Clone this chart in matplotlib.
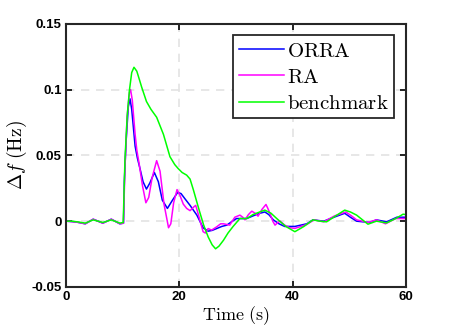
import matplotlib
matplotlib.use('Agg')
import matplotlib.pyplot as plt

# time points and frequency deviation
t_orra = [0, 1, 2, 3.4, 4.8, 6.5, 8.0, 9.5, 10.15, 10.3, 10.6, 11.0, 11.3, 11.6, 12.2,
          12.6, 13.06, 13.6, 14.2, 14.8, 15.6, 16.3, 17.0, 17.9, 18.8, 19.7, 20.3, 21.0,
          21.9, 23.1, 24.2, 25.1, 25.8, 26.6, 27.5, 28.4, 29.2, 30.1, 31.0, 31.9, 33.0,
          34.2, 35.1, 35.8, 36.6, 37.6, 38.6, 40.4, 42.5, 43.6, 45.5, 47.3, 49.2, 50.2,
          51.3, 53.6, 54.8, 56.6, 58.4, 60]
f_orra = [0, -0.0003, -0.0008, -0.002, 0.0015, -0.0015, 0.0015, -0.002, -0.0015, 0.03,
          0.06, 0.087, 0.093, 0.085, 0.057, 0.048, 0.040, 0.030, 0.0244, 0.029, 0.037,
          0.030, 0.016, 0.0097, 0.016, 0.0218, 0.021, 0.017, 0.012, 0.0046, -0.005,
          -0.0076, -0.007, -0.0056, -0.004, -0.003, -0.0005, 0.002, 0.002, 0.002, 0.004,
          0.006, 0.007, 0.005, 0.001, -0.002, -0.004, -0.004, -0.002, 0.001, 0.0, 0.003,
          0.006, 0.003, 0.0, -0.001, 0.001, -0.0005, 0.003, 0.003]

t_ra = [0, 1, 2, 3.4, 4.8, 6.5, 8.0, 9.5, 10.15, 10.4, 10.8, 11.2, 11.4, 11.7, 12.2, 12.5,
        12.9, 13.5, 14.1, 14.6, 15.2, 16.0, 16.6, 17.3, 18.1, 18.5, 19.0, 19.6, 20.1, 20.7,
        21.3, 21.9, 22.6, 22.9, 23.3, 24.2, 24.6, 25.1, 25.7, 26.6, 27.3, 27.8, 28.9, 29.8,
        30.7, 31.2, 31.6, 32.2, 32.8, 33.4, 33.9, 34.6, 35.3, 35.6, 36.0, 36.5, 36.9, 37.4,
        37.8, 38.6, 39.5, 40.4, 41.5, 42.5, 43.8, 45.5, 47.4, 49.4, 50.4, 51.3, 53.3, 54.8,
        56.4, 58.2, 60]
f_ra = [0, -0.0003, -0.0008, -0.002, 0.0015, -0.0015, 0.0015, -0.002, -0.0015, 0.04, 0.08,
        0.098, 0.100, 0.092, 0.066, 0.054, 0.044, 0.027, 0.014, 0.018, 0.033, 0.046, 0.038,
        0.013, -0.005, -0.002, 0.014, 0.024, 0.0198, 0.013, 0.0097, 0.008, 0.011, 0.012,
        0.006, -0.008, -0.009, -0.0056, -0.0068, -0.0043, -0.002, -0.002, -0.003, 0.003,
        0.0046, 0.003, 0.001, 0.005, 0.0076, 0.006, 0.0038, 0.009, 0.0127, 0.010, 0.006,
        0.0, -0.003, -0.001, 0.0, -0.003, -0.005, -0.0055, -0.004, -0.0025, 0.001, -0.0005,
        0.004, 0.007, 0.004, 0.001, -0.001, 0.001, -0.002, 0.002, 0.002]

t_bench = [0, 1, 2, 3.4, 4.8, 6.5, 8.0, 9.5, 10.1, 10.4, 10.8, 11.2, 11.6, 12.0, 12.5,
           13.0, 13.35, 14.2, 15.0, 16.0, 17.2, 18.35, 19.2, 19.8, 20.5, 21.3, 21.9, 22.5,
           23.0, 23.6, 24.3, 25.1, 25.8, 26.4, 27.0, 27.8, 28.6, 29.5, 30.7, 31.9, 33.0,
           34.2, 35.1, 36.2, 37.2, 38.8, 40.4, 42.0, 43.6, 44.8, 46.0, 47.6, 49.2, 50.2,
           51.3, 53.3, 54.8, 56.6, 58.2, 59.5, 60]
f_bench = [0, 0, -0.0005, -0.0015, 0.001, -0.001, 0.001, -0.0015, -0.001, 0.046, 0.08,
           0.0997, 0.113, 0.117, 0.114, 0.107, 0.102, 0.091, 0.085, 0.079, 0.066, 0.049,
           0.043, 0.040, 0.037, 0.035, 0.032, 0.0236, 0.016, 0.007, -0.003, -0.012, -0.018,
           -0.021, -0.019, -0.0145, -0.009, -0.004, 0.002, 0.002, 0.005, 0.007, 0.0084,
           0.006, 0.002, -0.004, -0.008, -0.004, 0.001, 0.0, -0.0005, 0.004, 0.0084, 0.007,
           0.0046, -0.0023, 0.0, -0.0013, 0.002, 0.0053, 0.005]

plt.rcParams['mathtext.fontset'] = 'cm'

fig = plt.figure(figsize=(4.49, 3.36), dpi=100)
ax = fig.add_axes([0.147, 0.146, 0.757, 0.783])

ax.plot(t_orra, f_orra, color=(0, 0, 1), lw=1.1, label=r'$\mathrm{ORRA}$')
ax.plot(t_ra, f_ra, color=(1, 0, 1), lw=1.1, label=r'$\mathrm{RA}$')
ax.plot(t_bench, f_bench, color=(0, 1, 0), lw=1.1, label=r'$\mathrm{benchmark}$')

ax.set_xlim(0, 60)
ax.set_ylim(-0.05, 0.15)
ax.set_xticks([0, 20, 40, 60])
ax.set_yticks([-0.05, 0, 0.05, 0.1, 0.15])
ax.set_yticklabels(['-0.05', '0', '0.05', '0.1', '0.15'])
ax.grid(True, linestyle=(0, (5, 4)), color='#e3e3e3', lw=1.2)
ax.tick_params(direction='in', top=True, right=True, length=4, width=1.2, pad=3)
for lab in ax.get_xticklabels() + ax.get_yticklabels():
    lab.set_fontfamily('Liberation Sans')
    lab.set_fontweight('bold')
    lab.set_fontsize(9.5)
for s in ax.spines.values():
    s.set_linewidth(1.5)
    s.set_color('#262626')

ax.set_xlabel(r'$\mathrm{Time\ (s)}$', fontsize=13, labelpad=1)
ax.set_ylabel(r'$\Delta f\ \mathrm{(Hz)}$', fontsize=14, labelpad=2)

leg = ax.legend(loc='upper right', fontsize=15, fancybox=False, framealpha=1,
                edgecolor='#262626', handlelength=2.2, handletextpad=0.15,
                labelspacing=0.3, borderpad=0.25, borderaxespad=0.55)
leg.get_frame().set_linewidth(1.3)

fig.savefig('out.png', dpi=100)
